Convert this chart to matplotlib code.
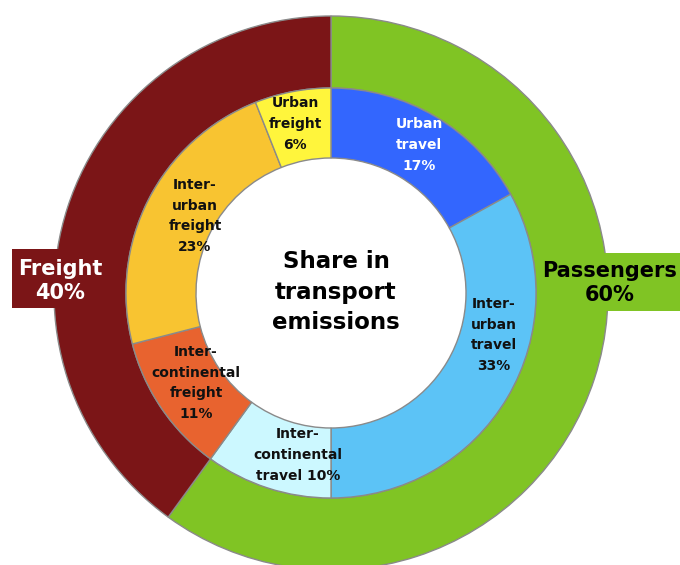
import matplotlib.pyplot as plt
from matplotlib.patches import Rectangle

# %% Data:

groups = ['Freight', 'Passengers']
group_share = [40, 60]

segments = ['Urban travel', 'Inter-urban travel', 'Inter-continental travel',
            'Inter-continental freight', 'Inter-urban freight', 'Urban freight']
segment_share = [17, 33, 10, 11, 23, 6]

# Label text per segment (line breaks as drawn), value appended below
segment_text = ['Urban\ntravel\n{}%', 'Inter-\nurban\ntravel\n{}%',
                'Inter-\ncontinental\ntravel {}%', 'Inter-\ncontinental\nfreight\n{}%',
                'Inter-\nurban\nfreight\n{}%', 'Urban\nfreight\n{}%']

# %% Styling:

group_colors = {'Freight': '#7b1517', 'Passengers': '#80c424'}
segment_colors = ['#3366fe', '#5cc3f6', '#ccf8ff', '#e8632f', '#f8c431', '#fff53c']
segment_text_colors = ['white', '#111111', '#111111', '#111111', '#111111', '#111111']
edge = '#8a8a8a'

W, H = 680, 565
cx, cy = 331, H - 293   # pie centre in pixel coords (y from bottom)
r_out, r_mid, r_in = 277, 205, 135

fig = plt.figure(figsize=(W/100, H/100), dpi=100)
ax = fig.add_axes([0, 0, 1, 1])

# %% Outer ring: passengers clockwise from the top, then freight
outer_vals = [group_share[1], group_share[0]]
outer_cols = [group_colors['Passengers'], group_colors['Freight']]
ax.pie(outer_vals, colors=outer_cols, radius=r_out, center=(cx, cy),
       startangle=90, counterclock=False,
       wedgeprops=dict(width=r_out - r_mid, edgecolor=edge, linewidth=1))

# %% Inner ring
ax.pie(segment_share, colors=segment_colors, radius=r_mid, center=(cx, cy),
       startangle=90, counterclock=False,
       wedgeprops=dict(width=r_mid - r_in, edgecolor=edge, linewidth=1))

# %% Group label tabs sticking out of the outer ring (drawn over the ring edge)
ax.add_patch(Rectangle((12, H - 308), 68, 59, facecolor=group_colors['Freight'],
                       edgecolor='none', zorder=3))
ax.add_patch(Rectangle((588, H - 311), 100, 58, facecolor=group_colors['Passengers'],
                       edgecolor='none', zorder=3))
ax.text(60, H - 281, f'{groups[0]}\n{group_share[0]}%', ha='center', va='center',
        color='white', fontsize=15, fontweight='bold', linespacing=1.2, zorder=4)
ax.text(610, H - 283, f'{groups[1]}\n{group_share[1]}%', ha='center', va='center',
        color='black', fontsize=15, fontweight='bold', linespacing=1.2, zorder=4)

# %% Segment labels
label_pos = [(419, 145), (494, 335), (298, 455), (196, 383), (195, 216), (295, 124)]
for txt, val, (x, y), col in zip(segment_text, segment_share, label_pos,
                                 segment_text_colors):
    ax.text(x, H - y, txt.format(val), ha='center', va='center', color=col,
            fontsize=10, fontweight='bold', linespacing=1.62)

# %% Centre title
ax.text(cx + 5, H - 292, 'Share in\ntransport\nemissions', ha='center', va='center',
        fontsize=16.5, fontweight='bold', linespacing=1.4)

ax.set_xlim(0, W)
ax.set_ylim(0, H)
ax.set_aspect('auto')
ax.axis('off')

fig.savefig('out.png', dpi=100)
